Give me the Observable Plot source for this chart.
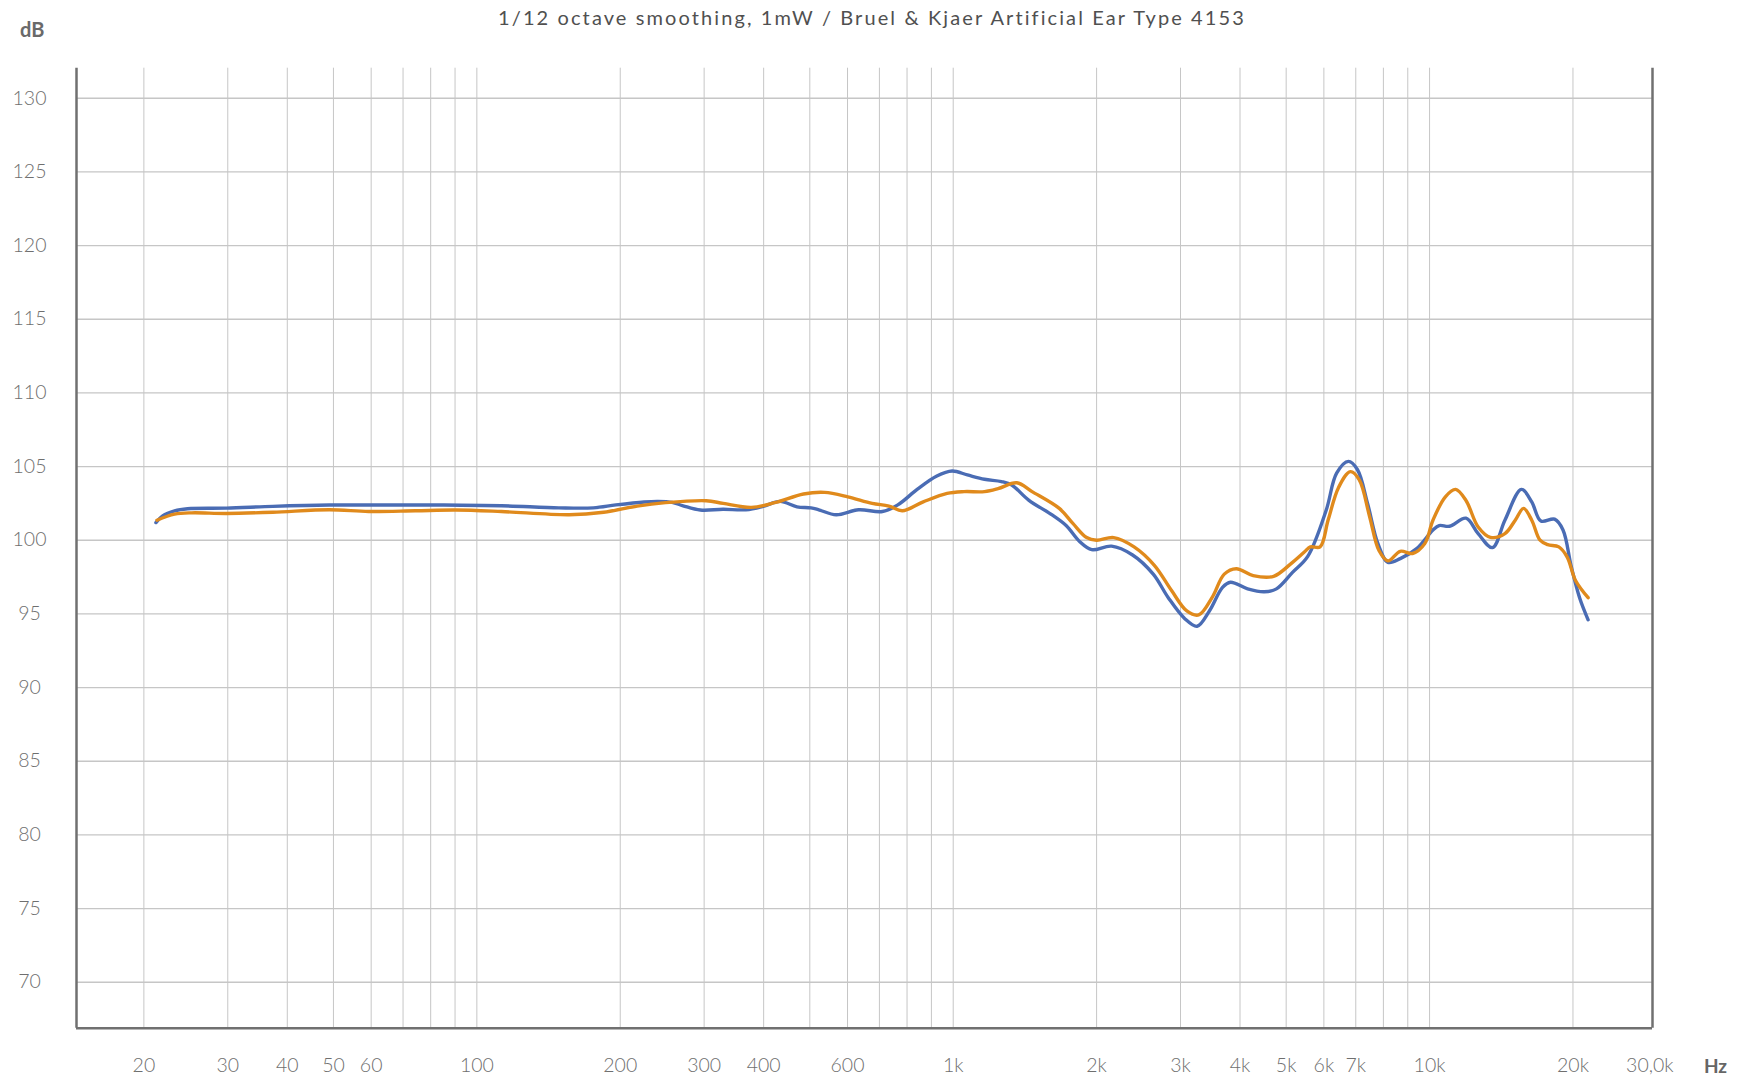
<!DOCTYPE html>
<html>
<head>
<meta charset="utf-8">
<script src="https://cdn.jsdelivr.net/npm/d3@7"></script>
<script src="https://cdn.jsdelivr.net/npm/@observablehq/plot@0.6"></script>
<style>
  html, body { margin: 0; padding: 0; background: #ffffff; }
  #wrap { width: 1755px; height: 1082px; position: relative; overflow: hidden; }
  #head { position: relative; width: 1755px; height: 40px; font-family: Lato, "Open Sans", sans-serif; }
  #title { position: absolute; left: 0; width: 1744px; top: 5px; text-align: center; font-size: 20px; font-weight: 400; color: #505050; letter-spacing: 2.1px; white-space: nowrap; }
  #dblabel { position: absolute; left: 20px; top: 17px; font-size: 20px; font-weight: 700; color: #6a6a6a; }
</style>
</head>
<body>
<div id="wrap">
  <div id="head">
    <div id="title">1/12 octave smoothing, 1mW / Bruel &amp; Kjaer Artificial Ear Type 4153</div>
    <div id="dblabel">dB</div>
  </div>
  <div id="chart"></div>
</div>
<script>
// ---- Data ----
const blueFreq = [21.2, 21.9, 23.2, 24.7, 29.8, 37.3, 49, 64.5, 85.3, 112.6, 148.6, 175.6, 195.9, 224.5, 240, 257, 271, 294.6, 328.7, 367, 399, 433, 470, 503, 524, 568, 633, 710, 765, 840, 924, 995, 1071, 1163, 1263, 1327, 1440, 1616, 1726, 1844, 1953, 2150, 2380, 2630, 2828, 3067, 3250, 3450, 3676, 3820, 4150, 4496, 4770, 5150, 5550, 6069, 6381, 6755, 7054, 7410, 7785, 8178, 8678, 9396, 10165, 10473, 11014, 11925, 12648, 13556, 14393, 15590, 16387, 17130, 18300, 19060, 19840, 20650, 21520];
const blueDb   = [101.2, 101.66, 102.0, 102.14, 102.18, 102.3, 102.39, 102.39, 102.39, 102.34, 102.2, 102.2, 102.4, 102.6, 102.64, 102.57, 102.34, 102.05, 102.1, 102.07, 102.3, 102.64, 102.27, 102.2, 102.05, 101.73, 102.07, 101.95, 102.4, 103.45, 104.36, 104.7, 104.43, 104.14, 103.98, 103.75, 102.73, 101.7, 101.0, 99.9, 99.36, 99.6, 99.0, 97.7, 96.1, 94.66, 94.16, 95.2, 96.8, 97.15, 96.7, 96.5, 96.7, 97.8, 98.9, 102.05, 104.55, 105.35, 104.8, 102.5, 99.8, 98.5, 98.75, 99.43, 100.7, 101.0, 100.95, 101.5, 100.45, 99.5, 101.36, 103.45, 102.6, 101.3, 101.43, 100.7, 98.2, 96.1, 94.6];

const orangeFreq = [21.3, 23.2, 25.2, 29.8, 37.3, 49, 59.3, 74.3, 90.3, 112.6, 156.3, 184.6, 217, 249, 303, 329, 377, 424, 485, 537, 601, 676, 733, 782, 865, 971, 1054, 1163, 1242, 1360, 1464, 1670, 1783, 1906, 2000, 2172, 2397, 2644, 2871, 3093, 3276, 3499, 3707, 3928, 4262, 4705, 5112, 5458, 5620, 5890, 6128, 6445, 6820, 7120, 7485, 7830, 8178, 8678, 9210, 9771, 10165, 10794, 11340, 11925, 12648, 13420, 14393, 15130, 15750, 16387, 17060, 17700, 18680, 19450, 20250, 21520];
const orangeDb   = [101.36, 101.77, 101.86, 101.82, 101.9, 102.07, 101.95, 102.0, 102.05, 101.95, 101.73, 101.9, 102.32, 102.55, 102.68, 102.5, 102.23, 102.57, 103.14, 103.25, 102.95, 102.5, 102.32, 102.0, 102.6, 103.18, 103.3, 103.3, 103.5, 103.9, 103.3, 102.16, 101.14, 100.18, 100.0, 100.18, 99.55, 98.3, 96.6, 95.2, 94.93, 96.14, 97.7, 98.07, 97.6, 97.55, 98.4, 99.2, 99.55, 99.55, 101.4, 103.6, 104.66, 104.1, 101.6, 99.3, 98.6, 99.25, 99.1, 99.77, 101.36, 102.95, 103.45, 102.7, 100.9, 100.2, 100.45, 101.36, 102.16, 101.36, 100.0, 99.7, 99.55, 98.86, 97.27, 96.1];

const yTicks = [70, 75, 80, 85, 90, 95, 100, 105, 110, 115, 120, 125, 130];
const xGrid = [20, 30, 40, 50, 60, 70, 80, 90, 100, 200, 300, 400, 500, 600, 700, 800, 900, 1000, 2000, 3000, 4000, 5000, 6000, 7000, 8000, 9000, 10000, 20000];
const xTickValues = [20, 30, 40, 50, 60, 80, 100, 200, 300, 400, 600, 800, 1000, 2000, 3000, 4000, 5000, 6000, 7000, 8000, 10000, 20000, 29000];
const xTickLabels = ["20", "30", "40", "50", "60", "80", "100", "200", "300", "400", "600", "800", "1k", "2k", "3k", "4k", "5k", "6k", "7k", "8k", "10k", "20k", "30,0k"];

const xDomain = [14.44, 29376];
const yDomain = [66.88, 132.04];

const blue = blueFreq.map((f, i) => ({f, db: blueDb[i]}));
const orange = orangeFreq.map((f, i) => ({f, db: orangeDb[i]}));
const labelOf = new Map(xTickValues.map((v, i) => [v, xTickLabels[i]]));

const chart = Plot.plot({
  width: 1755,
  height: 1042,
  marginTop: 27.7,
  marginBottom: 54.3,
  marginLeft: 76,
  marginRight: 103,
  style: {fontFamily: "Lato, 'Open Sans', sans-serif", fontSize: "19.5px", color: "#6f6f6f", background: "#fff"},
  x: {type: "log", domain: xDomain},
  y: {domain: yDomain},
  marks: [
    Plot.ruleX(xGrid, {stroke: "#c6c6c6", strokeWidth: 1}),
    Plot.ruleY(yTicks, {stroke: "#c6c6c6", strokeWidth: 1.3}),
    Plot.axisY(yTicks, {tickSize: 0, tickPadding: 47, textAnchor: "middle", fill: "#6f6f6f", fontSize: 19.5, fontWeight: 300, label: null}),
    Plot.axisX(xTickValues, {tickSize: 0, tickPadding: 30, tickFormat: d => labelOf.get(d), fill: "#6f6f6f", fontSize: 19.5, fontWeight: 300, label: null}),
    Plot.ruleX([xDomain[0], xDomain[1]], {stroke: "#707070", strokeWidth: 2.5}),
    Plot.ruleY([yDomain[0]], {stroke: "#707070", strokeWidth: 2.5}),
    Plot.line(blue, {x: "f", y: "db", stroke: "#4a6cb4", strokeWidth: 3.4, curve: "catmull-rom"}),
    Plot.line(orange, {x: "f", y: "db", stroke: "#e08a1c", strokeWidth: 3.4, curve: "catmull-rom"}),
    Plot.text(["Hz"], {frameAnchor: "bottom-right", dx: 63, dy: 45, fill: "#666", fontWeight: "bold", fontSize: 19, textAnchor: "middle"})
  ]
});
document.getElementById("chart").appendChild(chart);
</script>
</body>
</html>
